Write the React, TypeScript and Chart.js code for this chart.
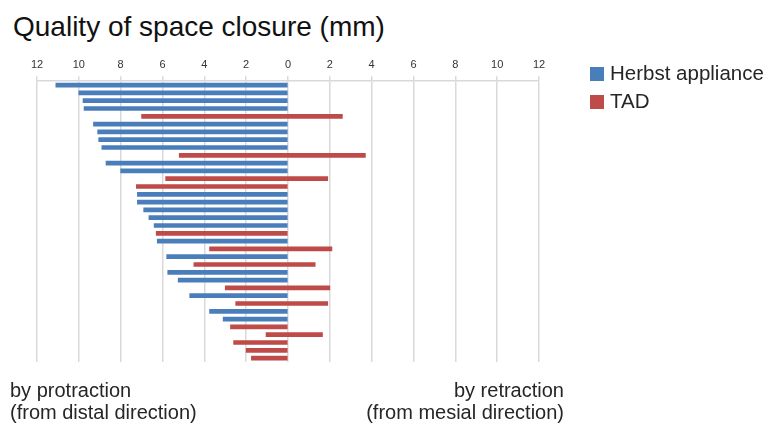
import React, { useEffect, useRef } from "react";
import { Chart, registerables } from "chart.js";

Chart.register(...registerables);

const cases: string[] = [
  "1", "2", "3", "4", "5", "6", "7", "8", "9", "10", "11", "12",
  "13", "14", "15", "16", "17", "18", "19", "20", "21", "22", "23", "24",
  "25", "26", "27", "28", "29", "30", "31", "32", "33", "34", "35", "36",
];

// Herbst appliance (negative = protraction), null where the case is a TAD case
const herbst: (number | null)[] = [
  -11.1, -10.0, -9.8, -9.75, null, -9.3, -9.1, -9.05, -8.9, null, -8.7, -8.0,
  null, null, -7.2, -7.2, -6.9, -6.65, -6.4, null, -6.25, null, -5.8, null,
  -5.75, -5.25, null, -4.7, null, -3.75, -3.1, null, null, null, null, null,
];

// TAD: each bar runs from tadFrom to tadTo
const tadFrom: (number | null)[] = [
  null, null, null, null, -7.0, null, null, null, null, -5.2, null, null,
  -5.85, -7.25, null, null, null, null, null, -6.3, null, -3.75, null, -4.5,
  null, null, -3.0, null, -2.5, null, null, -2.75, -1.05, -2.6, -2.0, -1.75,
];
const tadTo: (number | null)[] = [
  null, null, null, null, 2.6, null, null, null, null, 3.7, null, null,
  1.9, 0, null, null, null, null, null, 0, null, 2.1, null, 1.3,
  null, null, 2.0, null, 1.9, null, null, 0, 1.65, 0, 0, 0,
];

const xMin = -12;
const xMax = 12;
const xStep = 2;

const seriesNames = ["Herbst appliance", "TAD"];
const blue = "#4A7EBB";
const red = "#BE4B48";

export default function App() {
  const ref = useRef<HTMLCanvasElement | null>(null);

  useEffect(() => {
    if (!ref.current) return;
    const tadData = tadFrom.map((f, i) =>
      f === null || tadTo[i] === null ? null : [f, tadTo[i] as number]
    );
    const chart = new Chart(ref.current, {
      type: "bar",
      data: {
        labels: cases,
        datasets: [
          {
            label: seriesNames[0],
            data: herbst as any,
            backgroundColor: blue,
            barThickness: 4,
          },
          {
            label: seriesNames[1],
            data: tadData as any,
            backgroundColor: red,
            barThickness: 4,
          },
        ],
      },
      options: {
        indexAxis: "y",
        animation: false,
        responsive: true,
        maintainAspectRatio: false,
        layout: { padding: { left: 37, right: 230, top: 53, bottom: 63 } },
        datasets: { bar: { grouped: false } } as any,
        plugins: {
          legend: { display: false },
          tooltip: { enabled: false },
          title: { display: false },
        },
        scales: {
          x: {
            position: "top",
            min: xMin,
            max: xMax,
            ticks: {
              stepSize: xStep,
              callback: (v: any) => String(Math.abs(Number(v))),
              font: { family: "Liberation Sans", size: 11 },
              color: "#333333",
              padding: 5,
              maxRotation: 0,
            },
            grid: { color: "#d9d9d9", lineWidth: 1.5, tickLength: 5 },
            border: { display: true, color: "#d9d9d9", width: 1.5 },
          },
          y: {
            display: false,
          },
        },
      },
    });
    return () => chart.destroy();
  }, []);

  const textStyle: React.CSSProperties = {
    position: "absolute",
    fontFamily: "Liberation Sans, Arial, sans-serif",
    fontSize: 20,
    lineHeight: "22px",
    color: "#262626",
    whiteSpace: "nowrap",
  };

  return (
    <div
      style={{
        position: "fixed",
        left: 0,
        top: 0,
        width: 769,
        height: 425,
        background: "#ffffff",
        overflow: "hidden",
      }}
    >
      <div
        style={{
          ...textStyle,
          left: 13,
          top: 12,
          fontSize: 28,
          lineHeight: "30px",
          color: "#111111",
        }}
      >
        Quality of space closure (mm)
      </div>
      <div style={{ position: "absolute", left: 0, top: 0, width: 769, height: 425 }}>
        <canvas ref={ref} />
      </div>
      <div style={{ ...textStyle, left: 590, top: 62, fontSize: 20.5 }}>
        <span
          style={{
            display: "inline-block",
            width: 14,
            height: 14,
            background: blue,
            marginRight: 6,
            verticalAlign: "-1px",
          }}
        />
        {seriesNames[0]}
      </div>
      <div style={{ ...textStyle, left: 590, top: 90, fontSize: 20.5 }}>
        <span
          style={{
            display: "inline-block",
            width: 14,
            height: 14,
            background: red,
            marginRight: 6,
            verticalAlign: "-1px",
          }}
        />
        {seriesNames[1]}
      </div>
      <div style={{ ...textStyle, left: 10, top: 379 }}>
        by protraction
        <br />
        (from distal direction)
      </div>
      <div style={{ ...textStyle, right: 769 - 564, top: 379, textAlign: "right" }}>
        by retraction
        <br />
        (from mesial direction)
      </div>
    </div>
  );
}
